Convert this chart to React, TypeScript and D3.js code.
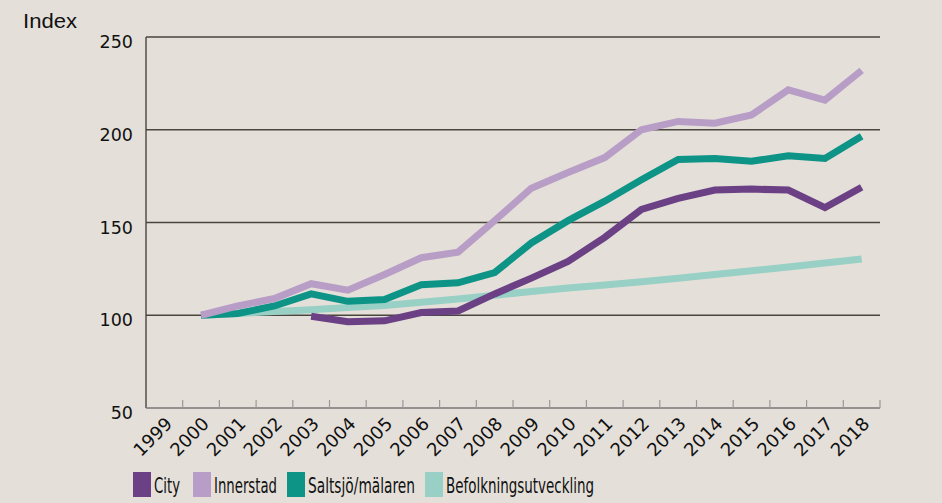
import React from "react";
import * as d3 from "d3";

const years: string[] = ["1999","2000","2001","2002","2003","2004","2005","2006","2007","2008","2009","2010","2011","2012","2013","2014","2015","2016","2017","2018"];
const yTicks: number[] = [50, 100, 150, 200, 250];

const city: (number | null)[] = [null, null, null, null, 99.5, 96.5, 97, 101.5, 102.3, 111.5, 120, 129, 142, 157, 163, 167.5, 168, 167.5, 158, 169];
const innerstad: (number | null)[] = [null, 100, 105, 109, 117, 113.5, 122, 131, 134, 151, 168.5, 177, 185, 200, 204.5, 203.5, 208, 221.5, 216, 232];
const saltsjo: (number | null)[] = [null, 100, 101, 105, 111.5, 107.5, 108.5, 116.5, 117.5, 123, 139, 151, 161.5, 173, 184, 184.5, 183, 186, 184.5, 196.5];
const befolkning: (number | null)[] = [null, 100, 101, 102, 103, 104.2, 105.3, 107, 108.8, 110.8, 112.8, 114.7, 116.3, 118, 120, 122, 124, 126, 128.2, 130.3];

const seriesNames: string[] = ["City", "Innerstad", "Saltsjö/mälaren", "Befolkningsutveckling"];
const seriesColors: string[] = ["#6b4085", "#b89dc6", "#0d9487", "#98d0c5"];

export default function App() {
  const W = 942, H = 503;
  const x = d3.scaleBand<string>().domain(years).range([146, 880]).padding(0);
  const y = d3.scaleLinear().domain([50, 250]).range([408, 37]);
  const cx = (yr: string) => (x(yr) as number) + x.bandwidth() / 2;

  const line = d3
    .line<number | null>()
    .defined((d) => d !== null)
    .x((_, i) => cx(years[i]))
    .y((d) => y(d as number));

  const data = [city, innerstad, saltsjo, befolkning];
  const drawOrder = [3, 2, 1, 0];

  const tickXs = years.slice(1).map((yr) => x(yr) as number).concat([880]);

  const legendX = [133, 193, 287, 425];
  const legendLen = [26, 63, 107, 148];
  const font = "'Liberation Sans Narrow', 'DejaVu Sans Condensed', 'Liberation Sans', Arial, sans-serif";

  return (
    <svg width={W} height={H} style={{ position: "absolute", left: 0, top: 0 }}>
      <rect x={0} y={0} width={W} height={H} fill="#e4e0d9" />
      <text x={23} y={28} fontSize={20} fontFamily="'Liberation Sans', Arial, sans-serif" fill="#111" textLength={54} lengthAdjust="spacingAndGlyphs">Index</text>
      {yTicks.map((t) => (
        <g key={t}>
          {t > 50 && (
            <line x1={146} x2={880} y1={y(t)} y2={y(t)} stroke="#48463f" strokeWidth={1.4} />
          )}
          <text x={133} y={y(t) + 11} textAnchor="end" fontSize={17.5} fontFamily="'DejaVu Sans', sans-serif" fill="#111">
            {t}
          </text>
        </g>
      ))}
      <line x1={146} x2={146} y1={y(250)} y2={y(50)} stroke="#48463f" strokeWidth={1.4} />
      <line x1={146} x2={880} y1={y(50)} y2={y(50)} stroke="#777" strokeWidth={1.4} />
      {tickXs.map((tx, i) => (
        <line key={i} x1={tx} x2={tx} y1={y(50)} y2={y(50) - 8} stroke="#999" strokeWidth={1.2} />
      ))}
      {years.map((yr) => (
        <text
          key={yr}
          transform={`translate(${cx(yr) + 9},${425}) rotate(-45)`}
          textAnchor="end"
          fontSize={18}
          fontFamily="'DejaVu Sans', sans-serif"
          fill="#111"
        >
          {yr}
        </text>
      ))}
      {drawOrder.map((si) => (
        <path
          key={si}
          d={line(data[si]) || ""}
          fill="none"
          stroke={seriesColors[si]}
          strokeWidth={7}
          strokeLinejoin="miter"
        />
      ))}
      {seriesNames.map((n, i) => (
        <g key={n}>
          <rect x={legendX[i]} y={472} width={18} height={25} fill={seriesColors[i]} />
          <text
            x={legendX[i] + 21}
            y={493}
            fontSize={21.5}
            fontFamily={font}
            fill="#111"
            textLength={legendLen[i]}
            lengthAdjust="spacingAndGlyphs"
          >
            {n}
          </text>
        </g>
      ))}
    </svg>
  );
}
